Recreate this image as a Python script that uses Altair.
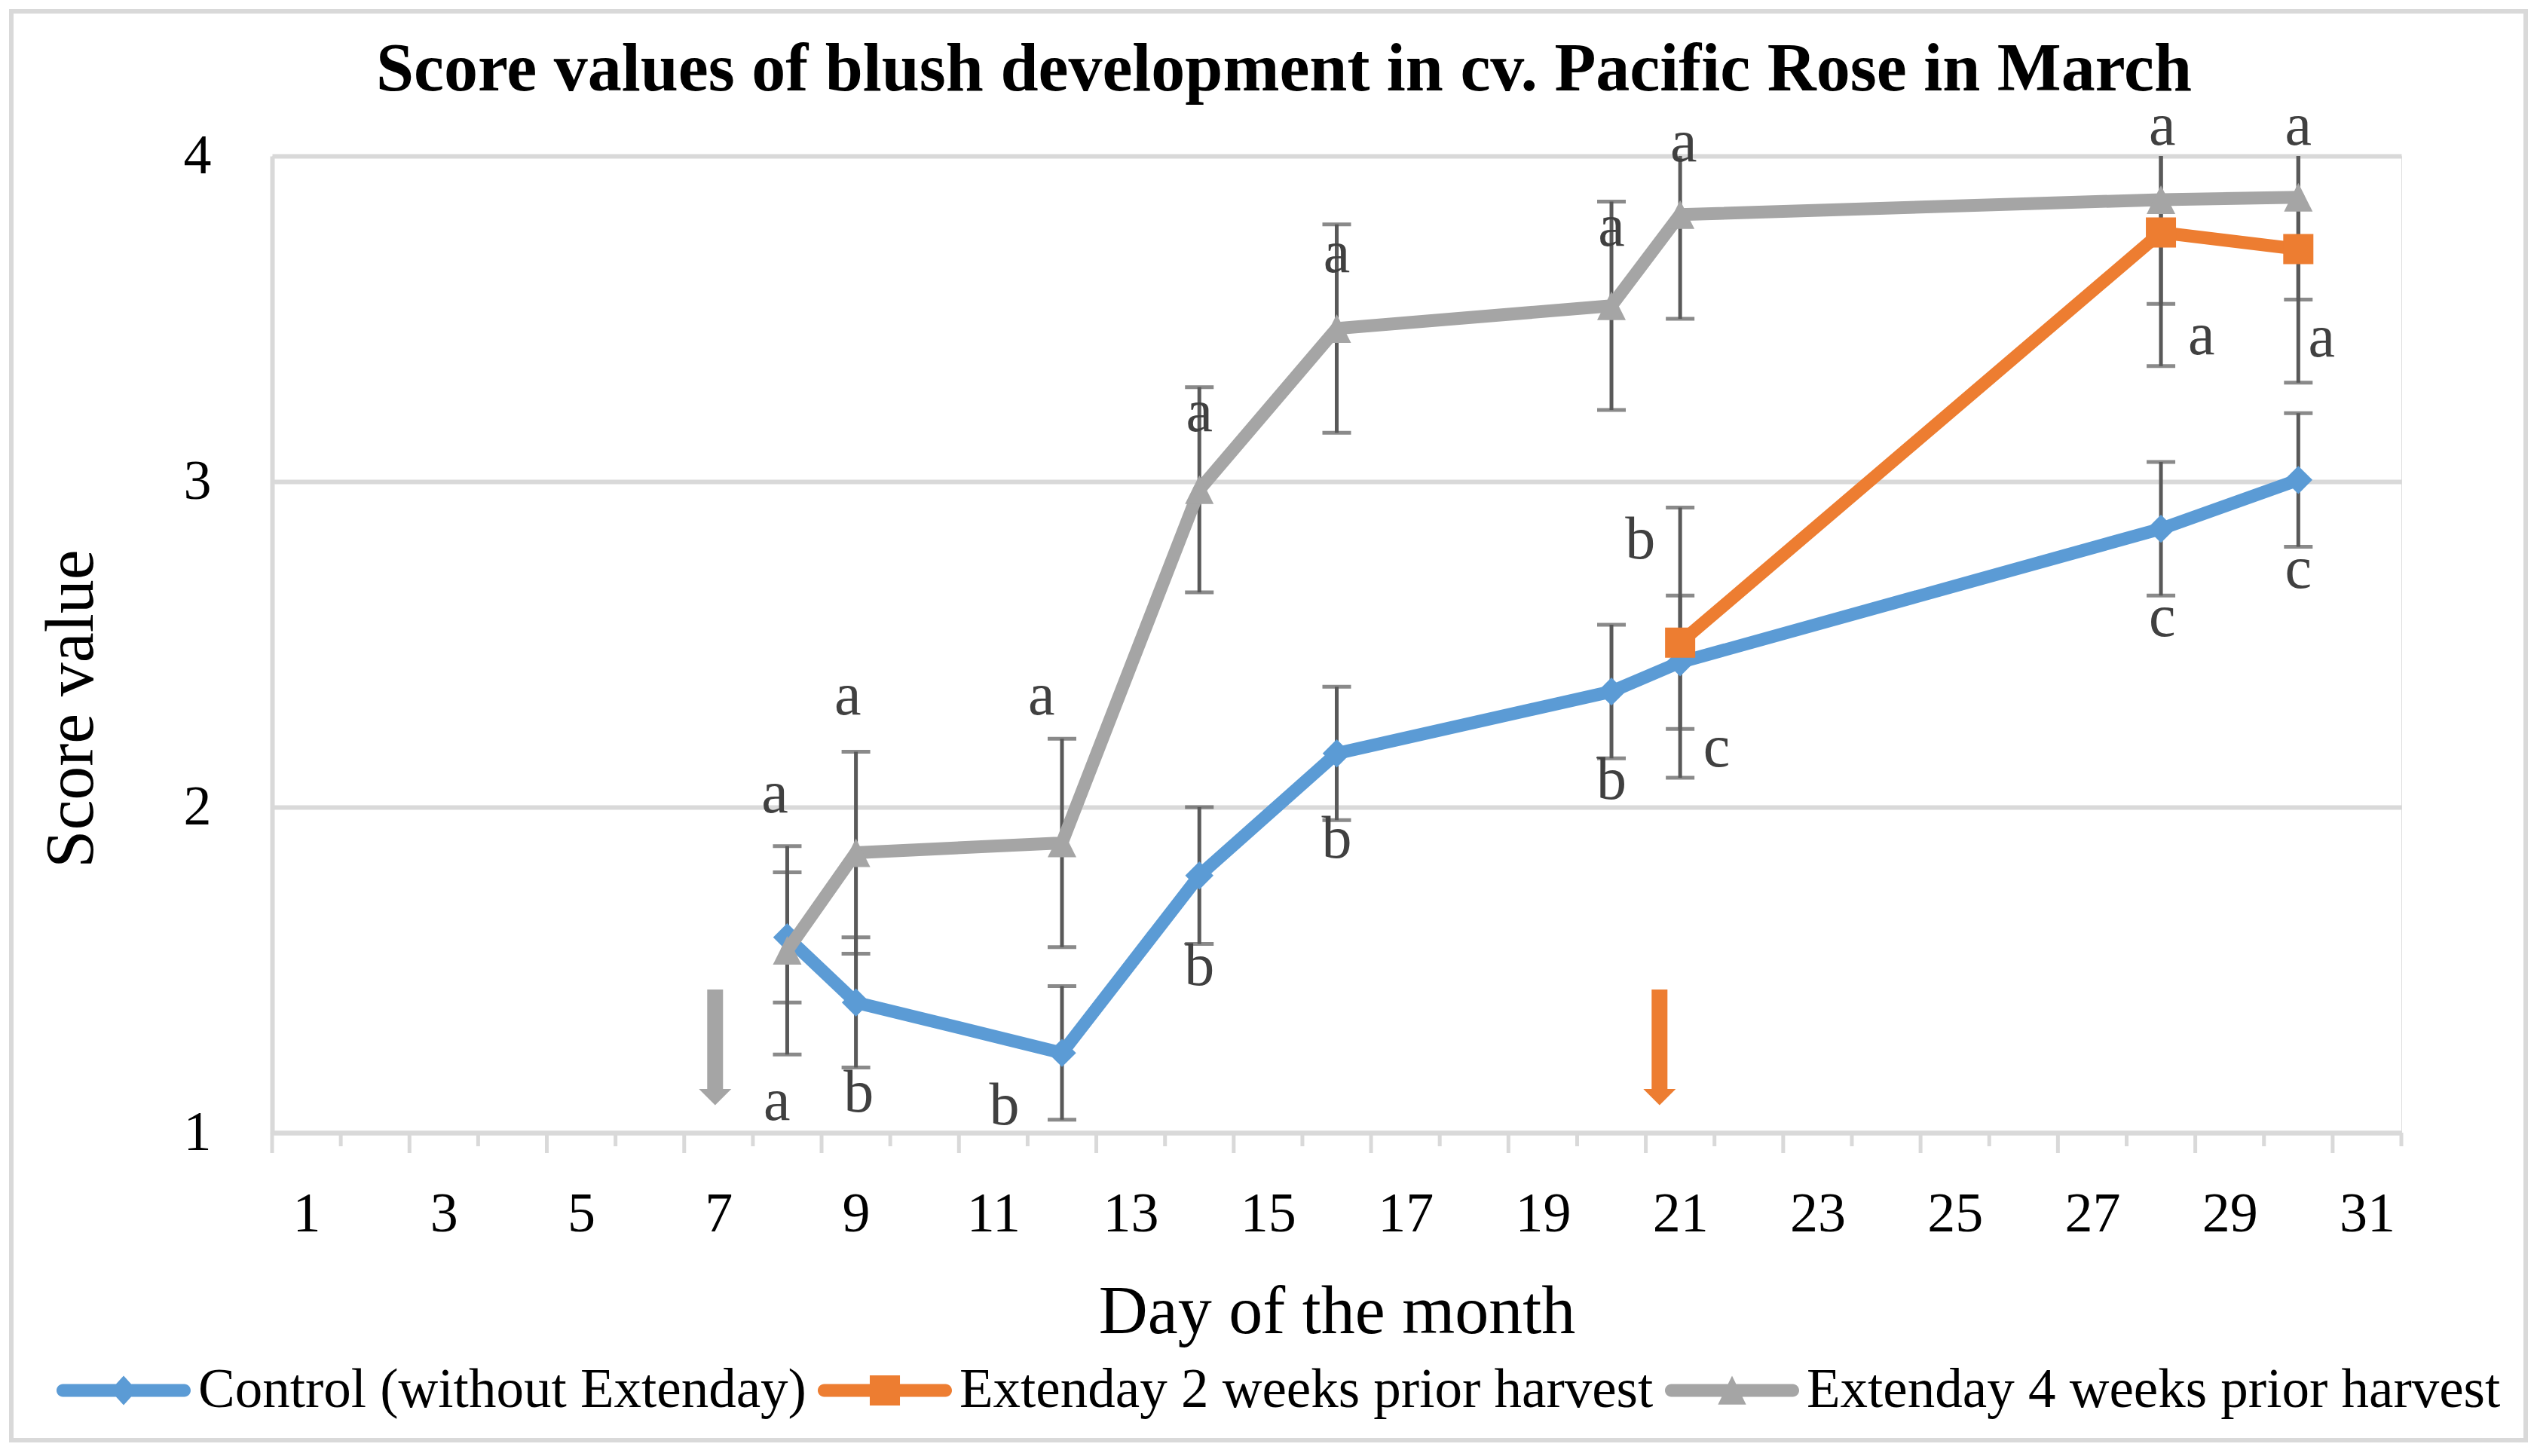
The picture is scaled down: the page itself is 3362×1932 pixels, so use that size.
import altair as alt
import pandas as pd

# ---------------- data ----------------
series_names = ["Control (without Extenday)",
                "Extenday 2 weeks prior harvest",
                "Extenday 4 weeks prior harvest"]
series_colors = ["#5B9BD5", "#ED7D31", "#A5A5A5"]

control_days = [8, 9, 12, 14, 16, 20, 21, 28, 30]
control_vals = [1.60, 1.40, 1.245, 1.79, 2.165, 2.355, 2.445, 2.855, 3.005]
control_err = [0.20, 0.20, 0.205, 0.21, 0.205, 0.205, 0.205, 0.205, 0.205]

ext2_days = [21, 28, 30]
ext2_vals = [2.505, 3.765, 3.714]
ext2_err = [0.415, 0.41, 0.41]

ext4_days = [8, 9, 12, 14, 16, 20, 21, 28, 30]
ext4_vals = [1.56, 1.86, 1.89, 2.975, 3.47, 3.54, 3.82, 3.866, 3.873]
ext4_err = [0.32, 0.31, 0.32, 0.315, 0.32, 0.32, 0.32, 0.32, 0.314]

# significance letters (day, score position)
letter_text = ["a", "a", "a", "b", "a", "b", "a", "b", "a", "b", "a", "b",
               "a", "b", "c", "a", "a", "c", "a", "a", "c"]
letter_day = [7.82, 7.85, 8.88, 9.04, 11.70, 11.16, 14.0, 14.0, 16.0, 16.0,
              20.0, 20.0, 21.05, 20.42, 21.53, 28.02, 28.59, 28.02, 30.0, 30.34, 30.0]
letter_val = [2.04, 1.095, 2.34, 1.12, 2.34, 1.08, 3.21, 1.51, 3.70, 1.90,
              3.78, 2.08, 4.04, 2.82, 2.18, 4.09, 3.447, 2.58, 4.09, 3.44, 2.73]

# application arrows
arrow_day = [6.95, 20.7]
arrow_top = [1.44, 1.44]
arrow_base = [1.134, 1.134]
arrow_color = ["#A5A5A5", "#ED7D31"]

y_ticks = [1, 2, 3, 4]
x_labels = [1, 3, 5, 7, 9, 11, 13, 15, 17, 19, 21, 23, 25, 27, 29, 31]
x_major_ticks = [0.5, 2.5, 4.5, 6.5, 8.5, 10.5, 12.5, 14.5, 16.5, 18.5,
                 20.5, 22.5, 24.5, 26.5, 28.5, 30.5]
x_minor_ticks = [1.5, 3.5, 5.5, 7.5, 9.5, 11.5, 13.5, 15.5, 17.5, 19.5,
                 21.5, 23.5, 25.5, 27.5, 29.5, 31.5]

Y_MAX = 4

# ---------------- layout ----------------
W, H = 2825, 1296
FONT = "Liberation Serif"
GRID = "#D9D9D9"
ERR = "#595959"

x_axis = alt.Axis(values=x_labels, grid=False, ticks=False, tickSize=0,
                  domainColor=GRID, domainWidth=6,
                  labelFont=FONT, labelFontSize=74, labelColor="black",
                  labelPadding=72, labelFlush=False, labelOverlap=False,
                  title="Day of the month", titleFont=FONT, titleFontSize=90,
                  titleFontWeight="normal", titleColor="black",
                  titleBaseline="alphabetic", titleY=265)
y_axis = alt.Axis(values=y_ticks, grid=True, gridColor=GRID, gridWidth=6,
                  ticks=False, tickSize=0, domainColor=GRID, domainWidth=6,
                  labelFont=FONT, labelFontSize=74, labelColor="black",
                  labelPadding=81, labelFlush=False,
                  title="Score value", titleFont=FONT, titleFontSize=90,
                  titleFontWeight="normal", titleColor="black",
                  titleAngle=270, titleBaseline="alphabetic", titleAlign="center",
                  titleX=-239, titleY=733)

x_scale = alt.Scale(domain=[0.5, 31.5], nice=False, zero=False)
y_scale = alt.Scale(domain=[1, 4], nice=False, zero=False)


def X(field="day"):
    return alt.X(f"{field}:Q", scale=x_scale, axis=x_axis)


def Y(field="value"):
    return alt.Y(f"{field}:Q", scale=y_scale, axis=y_axis)


def series_frame(name, days, vals, errs):
    df = pd.DataFrame({"day": days, "value": vals, "err": errs})
    df["series"] = name
    df["lo"] = df["value"] - df["err"]
    df["hi_raw"] = df["value"] + df["err"]
    df["hi"] = df["hi_raw"].clip(upper=Y_MAX)
    return df


frames = [series_frame(series_names[0], control_days, control_vals, control_err),
          series_frame(series_names[1], ext2_days, ext2_vals, ext2_err),
          series_frame(series_names[2], ext4_days, ext4_vals, ext4_err)]
all_df = pd.concat(frames, ignore_index=True)

layers = []

# outer chart border (decoration)
border = alt.Chart(pd.DataFrame({"k": [0]})).mark_rect(
    fill=None, stroke=GRID, strokeWidth=6
).encode(x=alt.value(-346), x2=alt.value(2990), y=alt.value(-192), y2=alt.value(1704))
layers.append(border)

# x axis tick marks (between categories)
major_df = pd.DataFrame({"day": x_major_ticks})
minor_df = pd.DataFrame({"day": x_minor_ticks})
layers.append(alt.Chart(major_df).mark_rule(color=GRID, strokeWidth=5).encode(
    x=X(), y=alt.value(H), y2=alt.value(H + 27)))
layers.append(alt.Chart(minor_df).mark_rule(color=GRID, strokeWidth=5).encode(
    x=X(), y=alt.value(H), y2=alt.value(H + 18)))

# error bars
for df in frames:
    base = alt.Chart(df)
    layers.append(base.mark_rule(color=ERR, strokeWidth=5).encode(
        x=X(), y=Y("lo"), y2="hi"))
    layers.append(base.mark_tick(color=ERR, thickness=5, size=38, orient="horizontal").encode(
        x=X(), y=Y("lo")))
    layers.append(base.transform_filter(f"datum.hi_raw <= {Y_MAX}").mark_tick(
        color=ERR, thickness=5, size=38, orient="horizontal").encode(x=X(), y=Y("hi")))

# lines + markers
marker_shapes = ["diamond", "square", "M0,-1L1,1L-1,1Z"]
marker_sizes = [1400, 1600, 1444]
for df, col, shp, sz in zip(frames, series_colors, marker_shapes, marker_sizes):
    base = alt.Chart(df)
    layers.append(base.mark_line(color=col, strokeWidth=17, strokeJoin="round",
                                 strokeCap="round").encode(x=X(), y=Y()))
    layers.append(base.mark_point(shape=shp, size=sz, filled=True, color=col,
                                  opacity=1, strokeWidth=0).encode(x=X(), y=Y()))

# significance letters
letters_df = pd.DataFrame({"day": letter_day, "value": letter_val, "letter": letter_text})
layers.append(alt.Chart(letters_df).mark_text(
    font=FONT, fontSize=80, color="#404040", align="center", baseline="middle"
).encode(x=X(), y=Y(), text="letter:N"))

# arrows
for d, t, b, c in zip(arrow_day, arrow_top, arrow_base, arrow_color):
    adf = pd.DataFrame({"day": [d], "value": [t], "base": [b]})
    layers.append(alt.Chart(adf).mark_rule(color=c, strokeWidth=21).encode(
        x=X(), y=Y("value"), y2="base"))
    layers.append(alt.Chart(adf).mark_point(shape="M-1,0L1,0L0,1Z", size=1849, filled=True,
                                            color=c, opacity=1, strokeWidth=0).encode(
        x=X(), y=Y("base")))

# legend (drawn from scales; layer itself has no visible marks)
legend_paths = [
    "M-0.905,-0.095L0.905,-0.095A0.095,0.095,0,0,1,0.905,0.095L-0.905,0.095A0.095,0.095,0,0,1,-0.905,-0.095Z"
    "M0,-0.22L0.2,0L0,0.22L-0.2,0Z",
    "M-0.905,-0.095L0.905,-0.095A0.095,0.095,0,0,1,0.905,0.095L-0.905,0.095A0.095,0.095,0,0,1,-0.905,-0.095Z"
    "M-0.225,-0.225L0.225,-0.225L0.225,0.225L-0.225,0.225Z",
    "M-0.905,-0.095L0.905,-0.095A0.095,0.095,0,0,1,0.905,0.095L-0.905,0.095A0.095,0.095,0,0,1,-0.905,-0.095Z"
    "M0,-0.22L0.21,0.21L-0.21,0.21Z",
]
legend_obj = alt.Legend(title=None, orient="none", legendX=-286, legendY=1549,
                        direction="horizontal", columns=3, symbolSize=31684,
                        symbolStrokeWidth=0, symbolOpacity=1,
                        labelFont=FONT, labelFontSize=73, labelColor="black",
                        labelOffset=10, columnPadding=15, labelLimit=3000)
legend_layer = alt.Chart(all_df).transform_filter("false").mark_point(filled=True).encode(
    x=X(), y=Y(),
    color=alt.Color("series:N", scale=alt.Scale(domain=series_names, range=series_colors),
                    legend=legend_obj),
    shape=alt.Shape("series:N", scale=alt.Scale(domain=series_names, range=legend_paths),
                    legend=legend_obj),
)
layers.append(legend_layer)

chart = alt.layer(*layers).properties(
    width=W, height=H,
    title=alt.TitleParams("Score values of blush development in cv. Pacific Rose in March",
                          font=FONT, fontSize=90, fontWeight="bold", color="black",
                          anchor="middle", frame="group", baseline="alphabetic",
                          dx=-70, dy=208, offset=10),
    autosize=alt.AutoSizeParams(type="none"),
    padding={"left": 353, "top": 199, "right": 168, "bottom": 421},
).configure_view(stroke=GRID, strokeWidth=6).configure(background="white")

chart.save("out.html", embed_options={"renderer": "svg", "actions": False})
